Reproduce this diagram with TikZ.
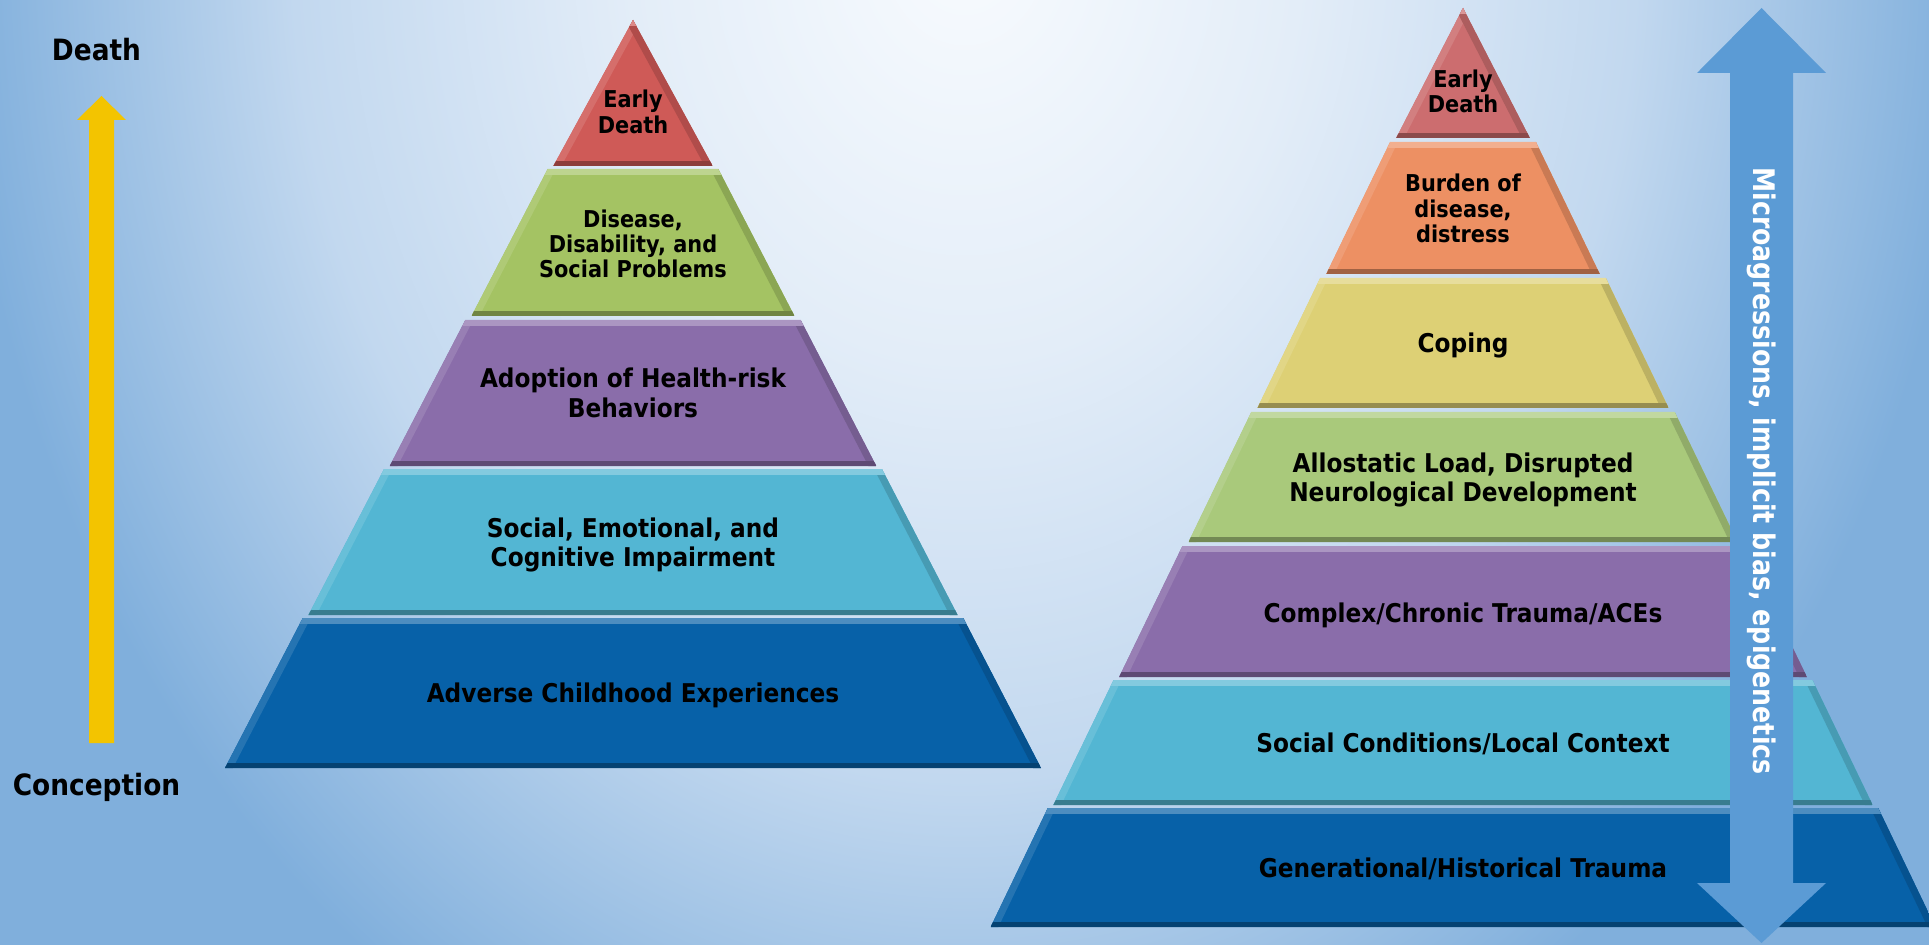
\documentclass[tikz,border=0pt]{standalone}
\usepackage{fontspec}
\setmainfont{DejaVu Sans}
\newfontfamily\tierfont[FakeStretch=0.9]{DejaVu Sans}
\newfontfamily\bandfont[FakeStretch=0.85]{DejaVu Sans}
\usepackage{tikz}

\definecolor{BgTop}{HTML}{F8FBFE}
\definecolor{BgHigh}{HTML}{E3EDF8}
\definecolor{BgMid}{HTML}{C2D8EF}
\definecolor{BgEdge}{HTML}{80AFDC}
\definecolor{TierRed}{HTML}{CF5A57}
\definecolor{TierRose}{HTML}{CC6D6F}
\definecolor{TierOrange}{HTML}{ED9063}
\definecolor{TierYellow}{HTML}{DDD075}
\definecolor{TierGreen}{HTML}{A4C363}
\definecolor{TierSage}{HTML}{A9C97B}
\definecolor{TierPurple}{HTML}{8A6DAA}
\definecolor{TierCyan}{HTML}{53B6D3}
\definecolor{TierBlue}{HTML}{0761A8}
\definecolor{ArrowBlue}{HTML}{5B9BD5}
\definecolor{ArrowGold}{HTML}{F3C400}

% light at the top middle, blue towards the sides
% (25bp of the shading = half the width of the shaded path)
\pgfdeclareradialshading{backdrop}{\pgfpointorigin}{%
  color(0bp)=(BgTop); color(7bp)=(BgHigh); color(14bp)=(BgMid);
  color(21bp)=(BgEdge); color(50bp)=(BgEdge)}

\tikzset{
  tierlabel/.style={font=\tierfont\bfseries\fontsize{14.7pt}{17pt}\selectfont,align=center,text=black},
  tiersmall/.style={tierlabel,font=\tierfont\bfseries\fontsize{13.2pt}{14.4pt}\selectfont},
  stagelabel/.style={font=\tierfont\bfseries\fontsize{16.7pt}{19pt}\selectfont,text=black},
  bandlabel/.style={font=\bandfont\bfseries\fontsize{16.9pt}{19pt}\selectfont,text=white},
  sidebevel/.style={line width=0.28cm},
  topbevel/.style={line width=0.24cm},
  botbevel/.style={line width=0.2cm}
}

% one bevelled slice: centre x, apex y, slope, top y, bottom y, colour
\newcommand{\tier}[6]{%
  \pgfmathsetmacro\tierup{(#4>#2)*(#3*(#4-#2)+4)}%
  \pgfmathsetmacro\tierdn{#3*(#5-#2)}%
  \begin{scope}
    \clip (#1-\tierup,#4) -- (#1+\tierup,#4) -- (#1+\tierdn,#5) -- (#1-\tierdn,#5) -- cycle;
    \fill[fill=#6] (#1-\tierdn,#4) rectangle (#1+\tierdn,#5);
    \draw[sidebevel,draw=#6!88!white] (#1-\tierup,#4) -- (#1-\tierdn,#5);
    \draw[sidebevel,draw=#6!85!black] (#1+\tierup,#4) -- (#1+\tierdn,#5);
    \draw[topbevel,draw=#6!72!white] (#1-\tierdn,#4) -- (#1+\tierdn,#4);
    \draw[botbevel,draw=#6!68!black] (#1-\tierdn,#5) -- (#1+\tierdn,#5);
  \end{scope}}

\begin{document}
\begin{tikzpicture}[x=0.02cm,y=-0.02cm]
\useasboundingbox (0,0) rectangle (1929,945);
\begin{scope}
  \clip (0,0) rectangle (1929,945);
  \shade[shading=backdrop] (-235.5,-1560) rectangle (2164.5,1440);
\end{scope}

% life course axis
\fill[ArrowGold] (89,743) -- (89,120) -- (77,120) -- (101.5,96) -- (126,120) -- (114,120) -- (114,743) -- cycle;
\node[stagelabel,anchor=base] (death) at (96.5,61) {Death};
\node[stagelabel,anchor=base] (conception) at (96.5,795) {Conception};

% left pyramid
\foreach \yt/\yb/\col in {20/166/TierRed,169/316/TierGreen,320/466/TierPurple,469/615/TierCyan,618/768/TierBlue}
  \tier{633}{20}{0.5455}{\yt}{\yb}{\col};

\node[tiersmall] (lDeath) at (633,112) {Early\\Death};
\node[tiersmall] (lDisease) at (633,244) {Disease,\\Disability, and\\Social Problems};
\node[tierlabel] (lRisk) at (633,393) {Adoption of Health-risk\\Behaviors};
\node[tierlabel] (lImpair) at (633,545) {Social, Emotional, and\\Cognitive Impairment};
\node[tierlabel,anchor=base] (lACE) at (633,702) {Adverse Childhood Experiences};

% right pyramid
\foreach \yt/\yb/\col in {8/138/TierRose,142/274/TierOrange,278/408/TierYellow,412/542/TierSage,546/677/TierPurple,680/805/TierCyan,808/927/TierBlue}
  \tier{1463}{8}{0.514}{\yt}{\yb}{\col};

\node[tiersmall] (rDeath) at (1463,91.5) {Early\\Death};
\node[tiersmall] (rBurden) at (1463,208.5) {Burden of\\disease,\\distress};
\node[tierlabel,anchor=base] (rCoping) at (1463,353) {Coping};
\node[tierlabel] (rLoad) at (1463,480) {Allostatic Load, Disrupted\\Neurological Development};
\node[tierlabel,anchor=base] (rTrauma) at (1463,622) {Complex/Chronic Trauma/ACEs};
\node[tierlabel,anchor=base] (rContext) at (1463,752) {Social Conditions/Local Context};
\node[tierlabel,anchor=base] (rHistory) at (1463,877) {Generational/Historical Trauma};

% two-way band
\fill[ArrowBlue] (1730,73) -- (1697,73) -- (1761.5,8) -- (1826,73) -- (1793,73)
  -- (1793,883) -- (1826,883) -- (1761.5,943) -- (1697,883) -- (1730,883) -- cycle;
\node[bandlabel,rotate=-90] (bias) at (1761.5,471) {Microagressions, implicit bias, epigenetics};
\end{tikzpicture}
\end{document}
